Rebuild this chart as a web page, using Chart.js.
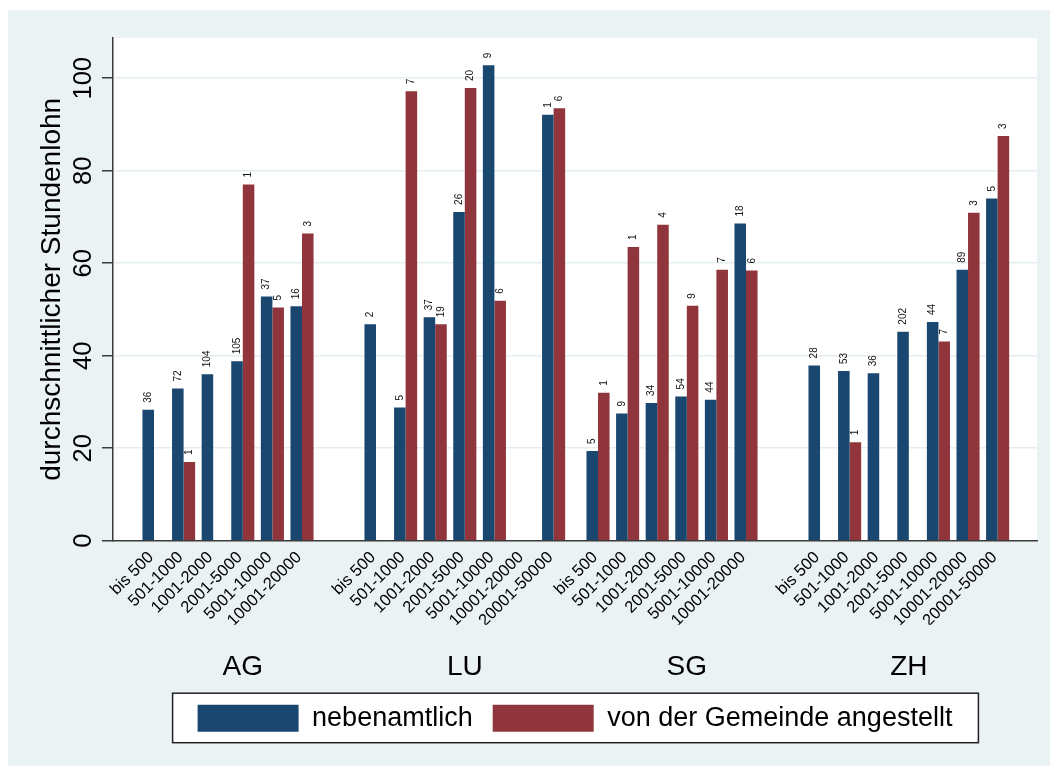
<!DOCTYPE html>
<html lang="de">
<head>
<meta charset="utf-8">
<title>Durchschnittlicher Stundenlohn</title>
<script src="https://cdn.jsdelivr.net/npm/chart.js@4.4.1/dist/chart.umd.min.js"></script>
<style>
  html, body { margin: 0; padding: 0; background: #fff; }
  canvas { display: block; }
</style>
</head>
<body>
<canvas id="lohnChart" width="1050" height="774"></canvas>
<script>
// =====================================================
// Data (one array per canton)
// =====================================================
const cantons = ['AG', 'LU', 'SG', 'ZH'];

const sizeClassesAG = ['bis 500', '501-1000', '1001-2000', '2001-5000', '5001-10000', '10001-20000'];
const sizeClassesLU = ['bis 500', '501-1000', '1001-2000', '2001-5000', '5001-10000', '10001-20000', '20001-50000'];
const sizeClassesSG = ['bis 500', '501-1000', '1001-2000', '2001-5000', '5001-10000', '10001-20000'];
const sizeClassesZH = ['bis 500', '501-1000', '1001-2000', '2001-5000', '5001-10000', '10001-20000', '20001-50000'];

// durchschnittlicher Stundenlohn, nebenamtlich
const nebenamtlichAG = [28.3, 32.9, 36.0, 38.8, 52.8, 50.7];
const nebenamtlichLU = [46.8, 28.8, 48.3, 71.1, 102.8, null, 92.1];
const nebenamtlichSG = [19.4, 27.5, 29.8, 31.2, 30.5, 68.6];
const nebenamtlichZH = [37.9, 36.7, 36.2, 45.2, 47.3, 58.6, 74.0];

// durchschnittlicher Stundenlohn, von der Gemeinde angestellt
const angestelltAG = [null, 17.0, null, 77.0, 50.4, 66.4];
const angestelltLU = [null, 97.2, 46.8, 97.9, 51.9, null, 93.5];
const angestelltSG = [32.0, 63.5, 68.3, 50.8, 58.6, 58.4];
const angestelltZH = [null, 21.3, null, null, 43.1, 70.9, 87.5];

// number of cases written above each bar
const nNebenamtlichAG = [36, 72, 104, 105, 37, 16];
const nNebenamtlichLU = [2, 5, 37, 26, 9, null, 1];
const nNebenamtlichSG = [5, 9, 34, 54, 44, 18];
const nNebenamtlichZH = [28, 53, 36, 202, 44, 89, 5];

const nAngestelltAG = [null, 1, null, 1, 5, 3];
const nAngestelltLU = [null, 7, 19, 20, 6, null, 6];
const nAngestelltSG = [1, 1, 4, 9, 7, 6];
const nAngestelltZH = [null, 1, null, null, 7, 3, 3];

const yTickValues = [0, 20, 40, 60, 80, 100];

// =====================================================
// Styling / layout constants
// =====================================================
const FONT = "'Liberation Sans', Arial, Helvetica, sans-serif";
const BLUE = '#1a476f';
const RED = '#90353b';
const BG = '#eaf2f3';
const GRID = '#e4edf0';
const AXIS = '#3a3a3a';

const GROUP_SPAN = 7.5;   // 7 slots per canton + half a slot gap
const X_MIN = -1.385;
const X_MAX = 29.83;

// =====================================================
// Build the point lists for the two bar series
// =====================================================
const sizeClasses = [sizeClassesAG, sizeClassesLU, sizeClassesSG, sizeClassesZH];
const nebenamtlich = [nebenamtlichAG, nebenamtlichLU, nebenamtlichSG, nebenamtlichZH];
const angestellt = [angestelltAG, angestelltLU, angestelltSG, angestelltZH];
const nNebenamtlich = [nNebenamtlichAG, nNebenamtlichLU, nNebenamtlichSG, nNebenamtlichZH];
const nAngestellt = [nAngestelltAG, nAngestelltLU, nAngestelltSG, nAngestelltZH];

const tickPositions = [];
const tickLabels = [];
const blueData = [], redData = [];
const blueCounts = [], redCounts = [];

cantons.forEach((canton, g) => {
    sizeClasses[g].forEach((label, i) => {
        const x = g * GROUP_SPAN + i;
        tickPositions.push(x);
        tickLabels.push(label);
        blueData.push({ x: x, y: nebenamtlich[g][i] });
        redData.push({ x: x, y: angestellt[g][i] });
        blueCounts.push(nNebenamtlich[g][i]);
        redCounts.push(nAngestellt[g][i]);
    });
});

const groupCenters = cantons.map((c, g) => g * GROUP_SPAN + 3);

// =====================================================
// Plugins: background + legend frame, counts, y tick labels
// =====================================================
const backgroundPlugin = {
    id: 'stataBackground',
    beforeDraw(chart) {
        const ctx = chart.ctx;
        const a = chart.chartArea;
        ctx.save();
        ctx.fillStyle = '#fff';
        ctx.fillRect(0, 0, chart.width, chart.height);
        ctx.fillStyle = BG;
        ctx.fillRect(8, 10, chart.width - 8, chart.height - 18);
        ctx.fillStyle = '#fff';
        ctx.fillRect(a.left, a.top, a.right - a.left, a.bottom - a.top);

        // frame around the legend items
        const lg = chart.legend;
        if (lg && lg.legendHitBoxes && lg.legendHitBoxes.length) {
            const first = lg.legendHitBoxes[0];
            const last = lg.legendHitBoxes[lg.legendHitBoxes.length - 1];
            const left = first.left - 25;
            const top = first.top - 11.5;
            const right = last.left + last.width + 26;
            const bottom = first.top + first.height + 11;
            ctx.fillRect(left, top, right - left, bottom - top);
            ctx.strokeStyle = '#222';
            ctx.lineWidth = 1.5;
            ctx.strokeRect(left, top, right - left, bottom - top);
        }
        ctx.restore();
    }
};

const countLabelPlugin = {
    id: 'countLabels',
    afterDatasetsDraw(chart) {
        const ctx = chart.ctx;
        const counts = [blueCounts, redCounts];
        ctx.save();
        ctx.font = `10px ${FONT}`;
        ctx.fillStyle = '#111';
        ctx.textAlign = 'left';
        ctx.textBaseline = 'middle';
        chart.data.datasets.forEach((ds, d) => {
            chart.getDatasetMeta(d).data.forEach((bar, i) => {
                const n = counts[d][i];
                if (n === null || ds.data[i].y === null) return;
                ctx.save();
                ctx.translate(bar.x, bar.y - 7);
                ctx.rotate(-Math.PI / 2);
                ctx.fillText(String(n), 0, 0);
                ctx.restore();
            });
        });
        ctx.restore();
    }
};

const yTickPlugin = {
    id: 'rotatedYTicks',
    afterDraw(chart) {
        const ctx = chart.ctx;
        const y = chart.scales.y;
        ctx.save();
        ctx.font = `25.5px ${FONT}`;
        ctx.fillStyle = '#000';
        ctx.textAlign = 'center';
        ctx.textBaseline = 'alphabetic';
        yTickValues.forEach(v => {
            ctx.save();
            ctx.translate(90.5, y.getPixelForValue(v));
            ctx.rotate(-Math.PI / 2);
            ctx.fillText(String(v), 0, 0);
            ctx.restore();
        });
        ctx.restore();
    }
};

// =====================================================
// Chart
// =====================================================
const ctx = document.getElementById('lohnChart').getContext('2d');

new Chart(ctx, {
    type: 'bar',
    data: {
        datasets: [
            { label: 'nebenamtlich', data: blueData, backgroundColor: BLUE, borderWidth: 0 },
            { label: 'von der Gemeinde angestellt', data: redData, backgroundColor: RED, borderWidth: 0 }
        ]
    },
    options: {
        responsive: false,
        animation: false,
        layout: { padding: { left: 8, top: 38, right: 13, bottom: 32.3 } },
        datasets: { bar: { categoryPercentage: 0.78, barPercentage: 1 } },
        plugins: {
            legend: {
                position: 'bottom',
                fullSize: false,
                labels: {
                    font: { family: FONT, size: 27 },
                    color: '#000',
                    boxWidth: 101,
                    boxHeight: 27,
                    padding: 20
                }
            },
            tooltip: { enabled: false }
        },
        scales: {
            x: {
                type: 'linear',
                min: X_MIN,
                max: X_MAX,
                bounds: 'data',
                offset: false,
                weight: 0,
                afterBuildTicks: axis => { axis.ticks = tickPositions.map(value => ({ value })); },
                ticks: {
                    autoSkip: false,
                    minRotation: 45,
                    maxRotation: 45,
                    padding: 7,
                    labelOffset: -3,
                    font: { family: FONT, size: 16.5 },
                    color: '#000',
                    callback: (v, i) => tickLabels[i]
                },
                grid: { display: false, drawTicks: false },
                border: { display: true, color: AXIS, width: 1.5 },
                afterFit: s => { s.height = 84; }
            },
            x2: {
                type: 'linear',
                axis: 'x',
                position: 'bottom',
                min: X_MIN,
                max: X_MAX,
                bounds: 'data',
                offset: false,
                weight: 1,
                afterBuildTicks: axis => { axis.ticks = groupCenters.map(value => ({ value })); },
                ticks: {
                    autoSkip: false,
                    minRotation: 0,
                    maxRotation: 0,
                    padding: 25.5,
                    font: { family: FONT, size: 28 },
                    color: '#000',
                    callback: (v, i) => cantons[i]
                },
                grid: { display: false, drawTicks: false },
                border: { display: false },
                afterFit: s => { s.height = 60; }
            },
            y: {
                min: 0,
                max: 108.7,
                bounds: 'data',
                ticks: { display: false, stepSize: 20, includeBounds: false },
                grid: {
                    color: c => (c.tick && c.tick.value === 0 ? 'rgba(0,0,0,0)' : GRID),
                    lineWidth: 1.5,
                    tickLength: 11,
                    tickColor: AXIS,
                    tickWidth: 1.5
                },
                border: { display: true, color: AXIS, width: 1.5 },
                title: {
                    display: true,
                    text: 'durchschnittlicher Stundenlohn',
                    font: { family: FONT, size: 28 },
                    color: '#000',
                    padding: { top: 27, bottom: 0 }
                },
                afterFit: s => { s.width = 105; }
            }
        }
    },
    plugins: [backgroundPlugin, countLabelPlugin, yTickPlugin]
});
</script>
</body>
</html>
